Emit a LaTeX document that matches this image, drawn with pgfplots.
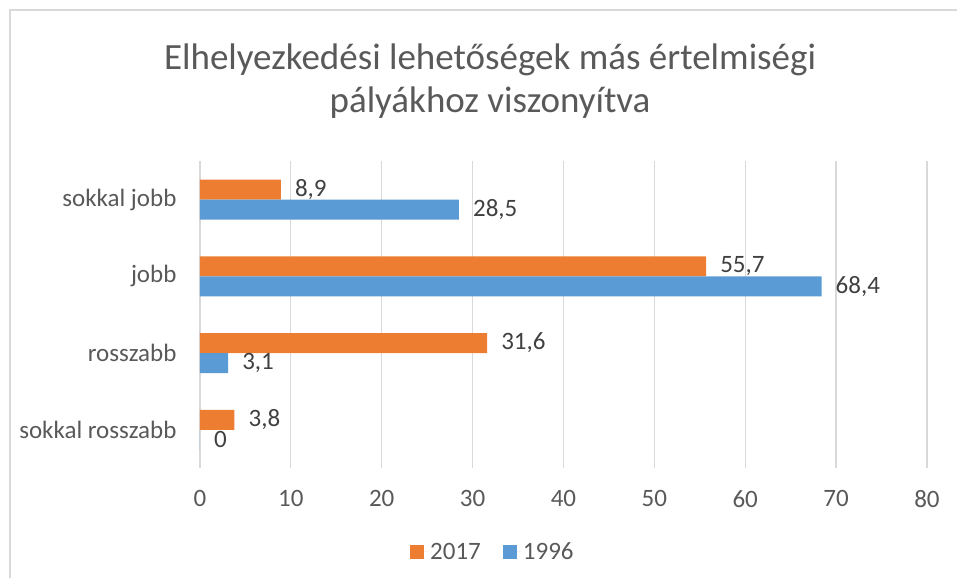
\documentclass[border=0pt]{standalone}
\usepackage{pgfplots}
\pgfplotsset{compat=1.18}
\usepackage{fontspec}
\setmainfont{Carlito}
\definecolor{orng}{HTML}{ED7D31}
\definecolor{blu}{HTML}{5B9BD5}
\definecolor{txt}{HTML}{595959}
\definecolor{lbl}{HTML}{404040}
\definecolor{grd}{HTML}{D9D9D9}
\begin{document}
\begin{tikzpicture}[x=1pt,y=1pt]
\useasboundingbox (0,0) rectangle (957,578);
\draw[grd, line width=2pt] (9.5,0) -- (9.5,568) -- (957,568);
\node[txt, align=center, font=\fontsize{37}{43}\selectfont] at (490,496.5) {Elhelyezkedési lehetőségek más értelmiségi\\pályákhoz viszonyítva};
\begin{axis}[
  at={(220,143)}, anchor=south west,
  scale only axis, width=727pt, height=307pt,
  xbar, bar width=0.26,
  xmin=0, xmax=80, ymin=-0.5, ymax=3.5,
  xtick={0,10,...,80},
  ytick={0,1,2,3},
  yticklabels={sokkal rosszabb, rosszabb, jobb, sokkal jobb},
  xmajorgrids, grid style={grd, line width=1.2pt},
  axis line style={draw=none}, tick style={draw=none},
  tick label style={txt, font=\fontsize{25}{29}\selectfont},
  /pgf/number format/assume math mode=true,
  yticklabel style={anchor=east, inner sep=0pt, xshift=-19pt},
  xticklabel style={anchor=north, inner sep=0pt, yshift=-22pt},
  nodes near coords,
  point meta=x,
  nodes near coords style={lbl, anchor=west, font=\fontsize{25}{29}\selectfont, /pgf/number format/use comma, /pgf/number format/assume math mode=true, inner sep=0pt, xshift=14pt},
  legend style={at={(0.403,-0.272)}, anchor=center, draw=none, fill=none, font=\fontsize{25}{29}\selectfont, text=txt, legend columns=2, /tikz/every even column/.append style={column sep=20pt}},
  legend image code/.code={\fill[#1] (0pt,-7pt) rectangle (14pt,7pt); \path (0pt,0pt) -- (18pt,0pt);},
]
\addplot[fill=orng, draw=none, bar shift=0.13] coordinates {(3.8,0) (31.6,1) (55.7,2) (8.9,3)};
\addplot[fill=blu, draw=none, bar shift=-0.13] coordinates {(0,0) (3.1,1) (68.4,2) (28.5,3)};
\legend{2017, 1996}
\end{axis}
\end{tikzpicture}
\end{document}
